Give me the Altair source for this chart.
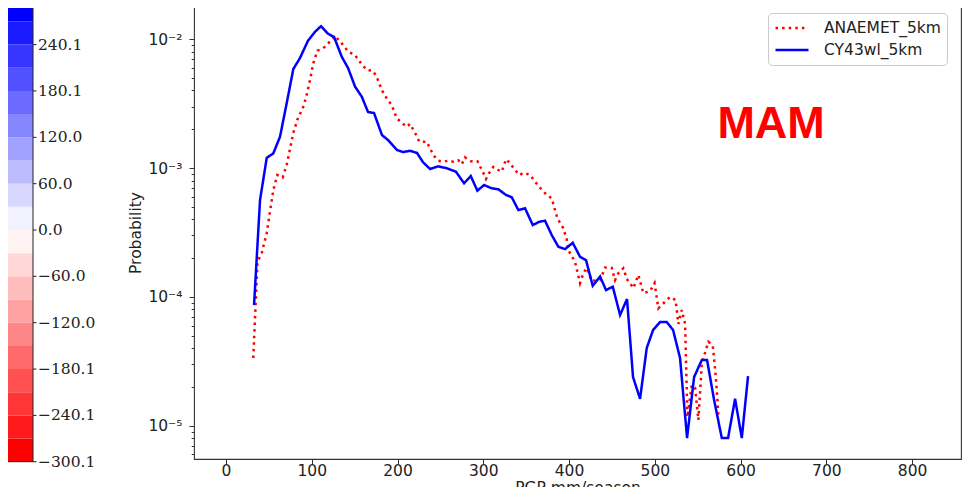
import altair as alt
import pandas as pd

# ---------------- data ----------------
# CY43wl_5km (solid blue)
cy_x = [32.7, 39.7, 47.5, 55.2, 63.0, 70.8, 78.5, 86.3, 95.6, 103.8,
        110.8, 119.0, 126.0, 134.9, 142.3, 150.5, 158.3, 165.6, 172.6, 181.9,
        188.9, 199.4, 206.4, 214.6, 222.7, 229.7, 237.9, 247.2, 256.6, 268.2,
        277.6, 285.4, 293.1, 300.9, 309.9, 317.6, 326.5, 333.2, 340.9, 348.7,
        357.7, 365.4, 372.0, 379.8, 387.5, 395.3, 404.3, 412.8, 419.8, 427.6,
        436.2, 443.1, 451.0, 459.5, 467.6, 474.6, 482.8, 490.6, 498.0, 506.1,
        513.9, 521.3, 529.4, 537.6, 545.8, 554.8, 560.9, 569.1, 578.1, 585.4,
        593.6, 601.4, 608.7]
cy_p = [8.65e-5, 5.65e-4, 1.20e-3, 1.30e-3, 1.75e-3, 3.19e-3, 5.86e-3, 7.14e-3, 9.72e-3, 1.14e-2,
        1.26e-2, 1.10e-2, 1.04e-2, 7.31e-3, 5.97e-3, 4.28e-3, 3.58e-3, 2.72e-3, 2.67e-3, 1.80e-3,
        1.65e-3, 1.38e-3, 1.33e-3, 1.36e-3, 1.31e-3, 1.11e-3, 9.83e-4, 1.03e-3, 1.00e-3, 9.36e-4,
        7.61e-4, 8.67e-4, 6.67e-4, 7.38e-4, 6.96e-4, 6.84e-4, 6.18e-4, 5.93e-4, 4.72e-4, 4.87e-4,
        3.61e-4, 3.83e-4, 3.90e-4, 3.02e-4, 2.45e-4, 2.35e-4, 2.63e-4, 2.05e-4, 1.93e-4, 1.22e-4,
        1.44e-4, 1.13e-4, 1.20e-4, 7.24e-5, 9.64e-5, 2.39e-5, 1.62e-5, 4.02e-5, 5.54e-5, 6.39e-5,
        6.39e-5, 5.54e-5, 3.36e-5, 8.04e-6, 2.39e-5, 3.24e-5, 3.24e-5, 1.59e-5, 8.04e-6, 8.04e-6,
        1.62e-5, 8.04e-6, 2.43e-5]

# ANAEMET_5km (dotted red)
an_x = [31.8, 36.7, 41.6, 47.5, 55.2, 59.8, 66.1, 70.8, 78.5, 83.1,
        90.1, 94.1, 98.0, 101.8, 106.5, 113.5, 119.3, 127.1, 134.9, 142.6,
        150.4, 157.4, 164.1, 171.1, 175.7, 181.6, 187.4, 193.2, 199.1, 204.9,
        210.7, 214.6, 222.4, 225.4, 234.1, 241.7, 247.6, 253.4, 259.2, 265.1,
        270.9, 274.9, 278.7, 285.4, 293.1, 299.4, 303.2, 307.1, 311.7, 317.5,
        321.5, 326.5, 331.2, 337.0, 342.0, 347.5, 354.5, 364.2, 374.0, 379.8,
        386.4, 393.3, 397.3, 399.2, 407.0, 412.8, 416.7, 420.6, 426.5, 436.2,
        442.0, 449.8, 453.6, 457.5, 463.3, 467.3, 475.0, 480.8, 486.6, 494.5,
        499.7, 504.1, 512.0, 517.8, 524.2, 527.5, 531.4, 535.3, 538.0, 543.1,
        547.0, 550.8, 554.8, 562.5, 567.6, 571.4, 574.1]
an_p = [3.36e-5, 1.87e-4, 2.19e-4, 3.13e-4, 6.75e-4, 8.83e-4, 8.44e-4, 1.06e-3, 1.87e-3, 2.36e-3,
        2.99e-3, 3.69e-3, 4.82e-3, 6.49e-3, 8.13e-3, 8.49e-3, 9.28e-3, 1.06e-2, 9.28e-3, 7.99e-3,
        7.53e-3, 6.49e-3, 5.76e-3, 5.69e-3, 5.11e-3, 4.03e-3, 3.47e-3, 3.08e-3, 2.43e-3, 2.25e-3,
        2.09e-3, 2.20e-3, 1.77e-3, 1.60e-3, 1.60e-3, 1.26e-3, 1.14e-3, 1.12e-3, 1.14e-3, 1.12e-3,
        1.15e-3, 1.07e-3, 1.21e-3, 1.13e-3, 1.13e-3, 9.36e-4, 8.22e-4, 9.20e-4, 1.02e-3, 9.65e-4,
        9.36e-4, 1.17e-3, 1.09e-3, 9.65e-4, 8.83e-4, 9.20e-4, 8.83e-4, 7.26e-4, 6.18e-4, 5.82e-4,
        4.07e-4, 3.41e-4, 2.80e-4, 2.31e-4, 1.87e-4, 1.28e-4, 1.53e-4, 1.68e-4, 1.33e-4, 1.35e-4,
        1.69e-4, 1.68e-4, 1.35e-4, 1.53e-4, 1.67e-4, 1.38e-4, 1.17e-4, 1.48e-4, 1.07e-4, 1.11e-4,
        1.28e-4, 8.16e-5, 9.18e-5, 9.99e-5, 9.47e-5, 6.17e-5, 7.92e-5, 6.17e-5, 1.17e-5, 2.07e-5,
        1.97e-5, 1.11e-5, 3.05e-5, 4.49e-5, 4.20e-5, 2.27e-5, 1.21e-5]

series_names = ["ANAEMET_5km", "CY43wl_5km"]

x_ticks = [0, 100, 200, 300, 400, 500, 600, 700, 800]
y_major = [1e-5, 1e-4, 1e-3, 1e-2]
y_minor = [6e-6, 7e-6, 8e-6, 9e-6,
           2e-5, 3e-5, 4e-5, 5e-5, 6e-5, 7e-5, 8e-5, 9e-5,
           2e-4, 3e-4, 4e-4, 5e-4, 6e-4, 7e-4, 8e-4, 9e-4,
           2e-3, 3e-3, 4e-3, 5e-3, 6e-3, 7e-3, 8e-3, 9e-3]

# colorbar (discrete, 20 levels)
cb_edges = [-300.1, -270.1, -240.1, -210.1, -180.1, -150.1, -120.0, -90.0, -60.0, -30.0,
            0.0, 30.0, 60.0, 90.0, 120.0, 150.1, 180.1, 210.1, 240.1, 270.1, 300.1]
cb_tick_values = [300.1, 240.1, 180.1, 120.0, 60.0, 0.0, -60.0, -120.0, -180.1, -240.1, -300.1]
cb_tick_labels = ["300.1", "240.1", "180.1", "120.0", "60.0", "0.0",
                  "\u221260.0", "\u2212120.0", "\u2212180.1", "\u2212240.1", "\u2212300.1"]

season_label = "MAM"
season_x = [635.6]
season_p = [1.71e-3]

# ---------------- layout constants ----------------
W, H = 767, 453
X_DOM = [-37.3, 857.0]
Y_DOM = [5.53e-6, 0.01807]
CB_RANGE = [455.7, -7.7]
FONT = "DejaVu Sans"

# ---------------- tables ----------------
lines_df = pd.concat([
    pd.DataFrame({"x": an_x, "p": an_p, "series": series_names[0], "order": range(len(an_x))}),
    pd.DataFrame({"x": cy_x, "p": cy_p, "series": series_names[1], "order": range(len(cy_x))}),
], ignore_index=True)


def bwr_r(t):
    if t < 0.5:
        v = int(round(255 * 2 * t))
        return "#%02x%02x%02x" % (255, v, v)
    v = int(round(255 * 2 * (1 - t)))
    return "#%02x%02x%02x" % (v, v, 255)


n_bins = len(cb_edges) - 1
cb_df = pd.DataFrame({
    "lo": cb_edges[:-1],
    "hi": cb_edges[1:],
    "col": [bwr_r(i / (n_bins - 1)) for i in range(n_bins)],
})
cb_tick_df = pd.DataFrame({"v": cb_tick_values, "lab": cb_tick_labels})
cb_frame_df = pd.DataFrame({"lo": [cb_edges[0]], "hi": [cb_edges[-1]]})
season_df = pd.DataFrame({"x": season_x, "p": season_p, "t": [season_label]})

xscale = alt.Scale(domain=X_DOM, nice=False, zero=False)
yscale = alt.Scale(type="log", domain=Y_DOM, nice=False)
cbscale = alt.Scale(domain=[cb_edges[0], cb_edges[-1]], range=CB_RANGE, nice=False, zero=False)

label_expr = ("abs(datum.value-0.01)<1e-9 ? '10\u207b\u00b2' : "
              "abs(datum.value-0.001)<1e-10 ? '10\u207b\u00b3' : "
              "abs(datum.value-0.0001)<1e-11 ? '10\u207b\u2074' : "
              "abs(datum.value-0.00001)<1e-12 ? '10\u207b\u2075' : ''")

dash_scale = alt.Scale(domain=series_names, range=[[2.5, 4.1], [1, 0]])
color_scale = alt.Scale(domain=series_names, range=["#ff0000", "#0000ff"])
legend = alt.Legend(
    title=None, orient="none", legendX=574, legendY=7,
    fillColor="white", strokeColor="#cccccc", cornerRadius=4, padding=6,
    symbolType="M-1,0H3.4", symbolSize=225, symbolStrokeWidth=2.5,
    labelFont=FONT, labelFontSize=15.5, labelColor="#222222", labelOffset=32,
    rowPadding=4,
)

lines = alt.Chart(lines_df).mark_line(strokeWidth=2.5).encode(
    x=alt.X("x:Q", scale=xscale,
            axis=alt.Axis(values=x_ticks, title="PGP mm/season", grid=False, domain=False,
                          tickSize=5, tickColor="#333333", labelPadding=-1,
                          labelFont=FONT, labelFontSize=15.5, labelColor="#222222",
                          titleFont=FONT, titleFontSize=15.5, titleFontWeight="normal",
                          titleColor="#222222", titleY=21, titleBaseline="top")),
    y=alt.Y("p:Q", scale=yscale,
            axis=alt.Axis(values=y_major, labelExpr=label_expr, title="Probability",
                          grid=False, domain=False, tickSize=5, tickColor="#333333",
                          labelPadding=7, labelFont=FONT, labelFontSize=15.5,
                          labelColor="#222222", titleFont=FONT, titleFontSize=15.5,
                          titleFontWeight="normal", titleColor="#222222",
                          titleX=-59, titleY=H / 2, titleAngle=-90,
                          titleAlign="center", titleBaseline="middle")),
    color=alt.Color("series:N", scale=color_scale, legend=legend),
    strokeDash=alt.StrokeDash("series:N", scale=dash_scale, legend=legend),
    order="order:Q",
)

season = alt.Chart(season_df).mark_text(
    font="Liberation Sans", fontSize=45, fontWeight="bold", color="#ff0000",
    align="center", baseline="alphabetic",
).encode(
    x=alt.X("x:Q", scale=xscale),
    y=alt.Y("p:Q", scale=yscale,
            axis=alt.Axis(values=y_minor, labels=False, title=None, grid=False, orient="left",
                          domain=False, tickSize=2.8, tickColor="#333333")),
    text="t:N",
)

cb_rects = alt.Chart(cb_df).mark_rect().encode(
    x=alt.value(-200), x2=alt.value(-161),
    y=alt.Y("lo:Q", scale=cbscale, axis=None), y2="hi:Q",
    color=alt.Color("col:N", scale=None),
)
cb_frame = alt.Chart(cb_frame_df).mark_rect(fill=None, stroke="#222222", strokeWidth=1).encode(
    x=alt.value(-220), x2=alt.value(-161),
    y=alt.Y("lo:Q", scale=cbscale, axis=None), y2="hi:Q",
)
cb_ticks = alt.Chart(cb_tick_df).mark_rule(color="#222222", strokeWidth=1).encode(
    x=alt.value(-161), x2=alt.value(-157.5),
    y=alt.Y("v:Q", scale=cbscale, axis=None),
)
cb_labels = alt.Chart(cb_tick_df).mark_text(
    font="DejaVu Serif", fontSize=15.5, color="#222222", align="left", baseline="middle",
).encode(
    x=alt.value(-156),
    y=alt.Y("v:Q", scale=cbscale, axis=None),
    text="lab:N",
)

chart = alt.layer(cb_rects, cb_frame, cb_ticks, cb_labels, lines, season).resolve_scale(
    y="independent"
).properties(
    width=W, height=H,
    autosize=alt.AutoSizeParams(type="none"),
    padding={"left": 186, "top": -2, "right": 11, "bottom": 40},
    background="white",
    title=alt.TitleParams("PDF: ANAEMET vs CY43wl 2015 - 2017, MAM", font=FONT,
                          fontSize=18.6, fontWeight="normal", color="#222222",
                          anchor="middle", frame="group", offset=3, baseline="alphabetic"),
).configure_view(stroke="#333333", strokeWidth=1.1)

chart.save("out.html", embed_options={"renderer": "svg", "actions": False})
